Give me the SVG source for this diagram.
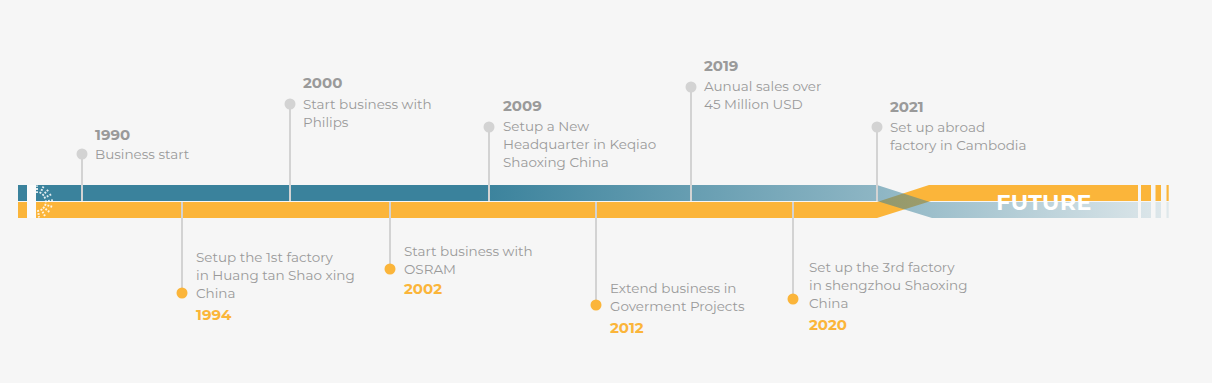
<svg xmlns="http://www.w3.org/2000/svg" width="1212" height="383" viewBox="0 0 1212 383">
<defs>
<linearGradient id="tealGrad" gradientUnits="userSpaceOnUse" x1="18" y1="0" x2="1170" y2="0">
<stop offset="0" stop-color="#3a829c" stop-opacity="1"/>
<stop offset="0.4" stop-color="#3a829c" stop-opacity="1"/>
<stop offset="0.75" stop-color="#3a829c" stop-opacity="0.55"/>
<stop offset="1" stop-color="#3a829c" stop-opacity="0.12"/>
</linearGradient>
<style>
.ln{stroke:#d3d3d3;stroke-width:2;fill:none}
.gd{fill:#d3d3d3}
.od{fill:#fbb53a}
.yr{font-family:"Montserrat","Open Sans","Liberation Sans",sans-serif;font-weight:700;font-size:15px;fill:#9a9a9a}
.yo{font-family:"Montserrat","Open Sans","Liberation Sans",sans-serif;font-weight:700;font-size:15px;fill:#fbb53a}
.tx{font-family:"Montserrat","Open Sans","Liberation Sans",sans-serif;font-size:13.5px;fill:#9a9a9a}
.sun{stroke:#ffffff;stroke-opacity:0.85;stroke-width:2;stroke-dasharray:1.8 1.3}
</style>
</defs>
<rect width="1212" height="383" fill="#f6f6f6"/>
<g id="timeline">
<polygon fill="#fbb53a" points="18,202 877,202 929,185 1138,185 1138,201 931,201 877,218 18,218"/>
<rect x="1141" y="185" width="10" height="16" fill="#fbb53a"/>
<rect x="1155.5" y="185" width="5.5" height="16" fill="#fbb53a"/>
<rect x="1166.5" y="185" width="2.2" height="16" fill="#fbb53a"/>
<polygon fill="url(#tealGrad)" points="18,185 877,185 930,202 1138,202 1138,218 932,218 877,201 18,201"/>
<rect x="1141" y="202" width="10" height="16" fill="url(#tealGrad)"/>
<rect x="1155.5" y="202" width="5.5" height="16" fill="url(#tealGrad)"/>
<rect x="1166.5" y="202" width="2.2" height="16" fill="url(#tealGrad)"/>
<rect x="27" y="185" width="9" height="33" fill="#fbfbfb"/>
<g class="sun">
<line x1="37" y1="193" x2="37" y2="185.5"/>
<line x1="40" y1="193.5" x2="43.5" y2="186.5"/>
<line x1="42.5" y1="195.5" x2="48.5" y2="189.5"/>
<line x1="44" y1="198" x2="52" y2="194"/>
<line x1="45" y1="201.5" x2="54" y2="200"/>
<line x1="44.5" y1="204.5" x2="53" y2="207"/>
<line x1="43" y1="207" x2="49.5" y2="212"/>
<line x1="41" y1="209" x2="45" y2="216"/>
<line x1="38" y1="210" x2="39" y2="217.5"/>
</g>
<text x="1044" y="209.5" text-anchor="middle" font-family="Montserrat,'Open Sans','Liberation Sans',sans-serif" font-weight="700" font-size="22" fill="#ffffff" letter-spacing="0.5">FUTURE</text>
</g>
<g id="connectors">
<line class="ln" x1="82" y1="154" x2="82" y2="201"/>
<line class="ln" x1="290" y1="104" x2="290" y2="201"/>
<line class="ln" x1="489" y1="127" x2="489" y2="201"/>
<line class="ln" x1="691" y1="87" x2="691" y2="201"/>
<line class="ln" x1="877" y1="127" x2="877" y2="201"/>
<line class="ln" x1="182" y1="202" x2="182" y2="293"/>
<line class="ln" x1="390" y1="202" x2="390" y2="269"/>
<line class="ln" x1="596" y1="202" x2="596" y2="305"/>
<line class="ln" x1="793" y1="202" x2="793" y2="299"/>
</g>
<g id="e1990">
<circle class="gd" cx="82" cy="154" r="5.5"/>
<text class="yr" x="95" y="140">1990</text>
<text class="tx" x="95" y="159">Business start</text>
</g>
<g id="e2000">
<circle class="gd" cx="290" cy="104" r="5.5"/>
<text class="yr" x="303" y="88">2000</text>
<text class="tx" x="303" y="109">Start business with</text>
<text class="tx" x="303" y="127">Philips</text>
</g>
<g id="e2009">
<circle class="gd" cx="489" cy="127" r="5.5"/>
<text class="yr" x="503" y="111">2009</text>
<text class="tx" x="503" y="131">Setup a New</text>
<text class="tx" x="503" y="149">Headquarter in Keqiao</text>
<text class="tx" x="503" y="167">Shaoxing China</text>
</g>
<g id="e2019">
<circle class="gd" cx="691" cy="87" r="5.5"/>
<text class="yr" x="704" y="71">2019</text>
<text class="tx" x="704" y="91">Aunual sales over</text>
<text class="tx" x="704" y="109">45 Million USD</text>
</g>
<g id="e2021">
<circle class="gd" cx="877" cy="127" r="5.5"/>
<text class="yr" x="890" y="112">2021</text>
<text class="tx" x="890" y="132">Set up abroad</text>
<text class="tx" x="890" y="150">factory in Cambodia</text>
</g>
<g id="e1994">
<circle class="od" cx="182" cy="293" r="5.5"/>
<text class="tx" x="196" y="262">Setup the 1st factory</text>
<text class="tx" x="196" y="280">in Huang tan Shao xing</text>
<text class="tx" x="196" y="298">China</text>
<text class="yo" x="196" y="320">1994</text>
</g>
<g id="e2002">
<circle class="od" cx="390" cy="269" r="5.5"/>
<text class="tx" x="404" y="256">Start business with</text>
<text class="tx" x="404" y="274">OSRAM</text>
<text class="yo" x="404" y="294">2002</text>
</g>
<g id="e2012">
<circle class="od" cx="596" cy="305" r="5.5"/>
<text class="tx" x="610" y="293">Extend business in</text>
<text class="tx" x="610" y="311">Goverment Projects</text>
<text class="yo" x="610" y="333">2012</text>
</g>
<g id="e2020">
<circle class="od" cx="793" cy="299" r="5.5"/>
<text class="tx" x="809" y="272">Set up the 3rd factory</text>
<text class="tx" x="809" y="290">in shengzhou Shaoxing</text>
<text class="tx" x="809" y="308">China</text>
<text class="yo" x="809" y="330">2020</text>
</g>
</svg>
